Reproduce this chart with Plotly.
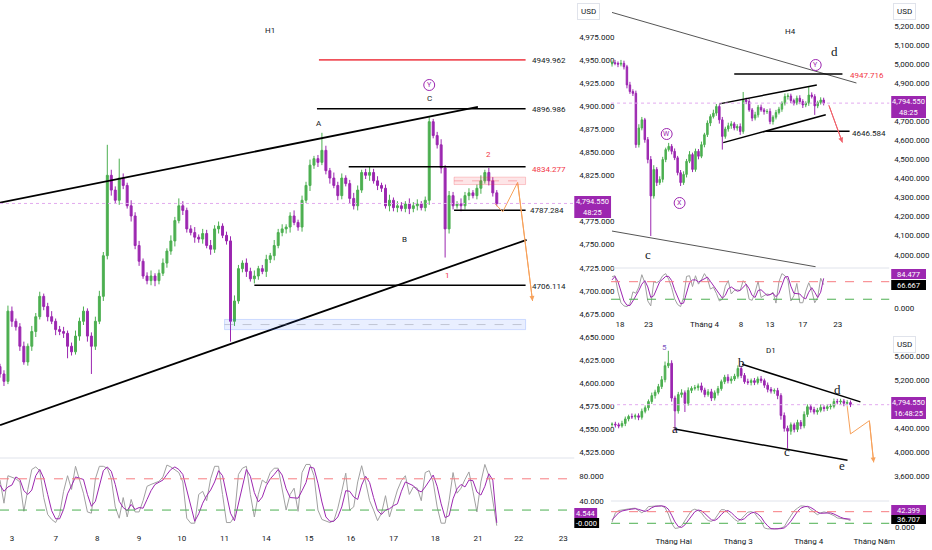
import plotly.graph_objects as go

W, H = 932, 550


def px(x):
    return x / W


def py(y):
    return 1 - y / H


GREEN = "#4caf50"
PURPLE = "#9c27b0"
GRAY_OSC = "#a0a0a0"
ORANGE = "#f7a15a"
RED = "#f23645"
TXT = "#131722"
FONT = "Roboto"

# ---------------- H1 ----------------
h1_first_open = 4618
h1_close = [4610, 4602, 4678, 4667, 4661, 4640, 4623, 4640, 4656, 4672,
            4694, 4683, 4672, 4667, 4658, 4656, 4654, 4640, 4634, 4651,
            4667, 4678, 4651, 4640, 4667, 4694, 4738, 4825, 4809, 4798,
            4822, 4814, 4792, 4781, 4749, 4732, 4716, 4711, 4716, 4711,
            4719, 4730, 4743, 4754, 4776, 4792, 4787, 4767, 4763, 4758,
            4756, 4762, 4749, 4745, 4767, 4770, 4760, 4754, 4667, 4689,
            4724, 4730, 4721, 4713, 4716, 4724, 4721, 4734, 4738, 4749,
            4763, 4767, 4769, 4781, 4774, 4769, 4798, 4814, 4836, 4843,
            4839, 4852, 4830, 4822, 4814, 4803, 4822, 4816, 4800, 4792,
            4809, 4828, 4825, 4828, 4819, 4814, 4811, 4792, 4798, 4790,
            4792, 4789, 4794, 4789, 4792, 4794, 4790, 4798, 4883, 4868,
            4858, 4833, 4767, 4803, 4792, 4794, 4792, 4803, 4806, 4803,
            4811, 4819, 4828, 4819, 4806, 4794.55]
h1_wick_up = [3, 4, 6, 5, 3, 4, 5, 3, 6, 4,
              5, 3, 4, 6, 3, 4, 5, 3, 4, 6,
              4, 5, 3, 4, 5, 6, 4, 33, 6, 4,
              21, 5, 3, 6, 4, 5, 3, 4, 6, 3,
              4, 5, 3, 6, 4, 8, 5, 3, 4, 6,
              3, 5, 4, 6, 4, 5, 3, 4, 5, 6,
              4, 3, 5, 4, 6, 3, 4, 5, 3, 6,
              4, 5, 3, 4, 6, 3, 5, 4, 6, 3,
              4, 19, 5, 3, 6, 4, 5, 3, 4, 6,
              5, 3, 4, 6, 4, 5, 3, 4, 6, 3,
              5, 4, 3, 6, 4, 5, 3, 4, 5, 3,
              4, 6, 3, 5, 4, 3, 6, 4, 5, 3,
              4, 6, 3, 5, 4, 3]
h1_wick_dn = [4, 5, 3, 6, 4, 5, 3, 4, 5, 6,
              3, 4, 5, 3, 6, 4, 5, 13, 4, 3,
              5, 4, 6, 30, 4, 3, 5, 4, 6, 3,
              5, 4, 3, 6, 4, 5, 3, 4, 5, 6,
              4, 3, 5, 4, 6, 3, 5, 4, 3, 6,
              4, 5, 3, 6, 4, 5, 3, 4, 22, 5,
              3, 4, 6, 3, 5, 4, 3, 6, 4, 5,
              3, 4, 5, 6, 3, 4, 5, 3, 6, 4,
              5, 3, 4, 6, 3, 5, 4, 3, 6, 4,
              5, 3, 4, 6, 3, 5, 4, 3, 6, 4,
              5, 3, 4, 6, 4, 5, 3, 4, 5, 3,
              4, 6, 31, 5, 4, 3, 6, 4, 5, 3,
              4, 6, 3, 5, 4, 3]
h1_k = [73, 36, 80, 78, 75, 70, 23, 58, 90, 94,
        88, 45, 18, 10, 5, 18, 55, 80, 58, 95,
        75, 52, 22, 20, 75, 95, 95, 92, 75, 30,
        12, 45, 14, 42, 22, 22, 40, 63, 66, 69,
        71, 78, 97, 94, 90, 85, 70, 12, 4, 4,
        50, 55, 40, 75, 95, 95, 50, 5, 5, 15,
        82, 92, 95, 50, 14, 50, 73, 68, 85, 92,
        92, 60, 25, 50, 60, 23, 85, 98, 98, 80,
        25, 10, 7, 5, 8, 28, 55, 84, 25, 30,
        70, 96, 70, 40, 25, 8, 20, 48, 14, 35,
        57, 72, 80, 50, 62, 60, 40, 85, 88, 70,
        30, 4, 4, 40, 85, 52, 60, 74, 86, 55,
        22, 70, 98, 80, 40, 0]
h1_d = [65, 55, 62, 65, 78, 74, 56, 50, 57, 80,
        90, 76, 50, 24, 11, 11, 26, 51, 64, 78,
        76, 74, 50, 31, 39, 63, 88, 94, 87, 66,
        39, 29, 24, 34, 26, 29, 28, 42, 56, 66,
        69, 73, 82, 90, 94, 90, 82, 56, 29, 7,
        19, 36, 48, 57, 70, 88, 80, 50, 20, 8,
        34, 63, 90, 79, 53, 38, 46, 64, 75, 82,
        90, 81, 59, 45, 45, 44, 56, 69, 94, 92,
        68, 38, 14, 7, 7, 14, 30, 56, 55, 46,
        42, 65, 79, 69, 45, 24, 18, 25, 27, 32,
        35, 55, 70, 67, 64, 57, 54, 62, 71, 81,
        63, 35, 13, 16, 43, 59, 66, 62, 73, 72,
        54, 49, 63, 83, 73, 4.544]
h1_tickpos = [3, 14, 24.5, 35, 45.75, 56.5, 67, 77.75, 88.25, 99, 109.5, 120.25, 130.5, 141.75]
h1_ticklab = ["3", "7", "8", "9", "10", "11", "14", "15", "16", "17", "18", "21", "22", "23"]
h1_pricetick = [4525, 4550, 4575, 4600, 4625, 4650, 4675, 4700, 4725, 4750, 4775,
                4825, 4850, 4875, 4900, 4925, 4950, 4975]
h1_levels = [4949.962, 4896.986, 4834.277, 4787.284, 4706.114]

# ---------------- H4 ----------------
h4_first_open = 5000
h4_close = [5006, 5003, 4999, 5003, 4985, 4890, 4855, 4846, 4577, 4664,
            4707, 4603, 4499, 4308, 4447, 4378, 4395, 4499, 4551, 4568,
            4542, 4508, 4430, 4378, 4421, 4490, 4525, 4447, 4542, 4516,
            4577, 4629, 4690, 4724, 4742, 4777, 4707, 4620, 4659, 4676,
            4686, 4664, 4672, 4646, 4811, 4803, 4759, 4716, 4733, 4773,
            4759, 4750, 4751, 4698, 4721, 4745, 4763, 4794, 4829, 4832,
            4808, 4794, 4820, 4803, 4785, 4794, 4837, 4829, 4780, 4797,
            4811, 4794.55]
h4_wick_up = [12, 15, 10, 18, 14, 10, 16, 12, 14, 20,
              15, 10, 14, 18, 22, 12, 16, 14, 10, 18,
              12, 15, 10, 14, 16, 12, 18, 10, 14, 12,
              16, 10, 14, 12, 18, 13, 10, 15, 12, 16,
              14, 10, 12, 16, 42, 12, 14, 10, 16, 12,
              14, 10, 12, 16, 10, 14, 12, 10, 16, 14,
              12, 10, 14, 16, 12, 10, 42, 14, 12, 10,
              14, 12]
h4_wick_dn = [14, 10, 16, 12, 14, 18, 12, 14, 17, 15,
              12, 16, 20, 210, 14, 18, 12, 16, 14, 10,
              16, 12, 14, 18, 12, 16, 10, 14, 12, 16,
              10, 14, 12, 16, 10, 14, 20, 69, 12, 14,
              16, 12, 14, 18, 12, 14, 10, 16, 12, 14,
              10, 16, 12, 14, 16, 12, 10, 14, 12, 16,
              14, 12, 10, 14, 16, 12, 14, 10, 47, 12,
              10, 12]
h4_k = [89, 92, 46, 15, 6, 4, 12, 46, 42, 60,
        95, 72, 20, 6, 75, 72, 78, 92, 98, 82,
        58, 26, 10, 4, 30, 90, 92, 61, 92, 68,
        80, 98, 84, 54, 59, 42, 20, 25, 62, 78,
        40, 50, 52, 50, 78, 68, 25, 22, 45, 76,
        30, 35, 40, 38, 45, 14, 75, 98, 92, 80,
        20, 35, 70, 15, 15, 48, 72, 50, 15, 30,
        85, 66.667]
h4_d = [80, 90, 75, 45, 20, 8, 7, 20, 34, 50,
        68, 78, 60, 30, 35, 55, 75, 82, 90, 90,
        78, 52, 30, 12, 14, 42, 72, 80, 80, 74,
        78, 82, 88, 76, 64, 50, 38, 28, 36, 55,
        60, 55, 48, 50, 60, 68, 55, 36, 30, 50,
        52, 45, 36, 38, 42, 32, 42, 65, 88, 90,
        62, 42, 42, 40, 30, 26, 45, 58, 45, 30,
        45, 84.477]
h4_tickpos = [2.67, 12.2, 31, 43.3, 53, 64, 75.7]
h4_ticklab = ["18", "23", "Tháng 4", "8", "13", "17", "23"]
h4_pricetick = [4000, 4100, 4200, 4300, 4400, 4500, 4600, 4700, 4900, 5000, 5100, 5200]
h4_levels = [4947.716, 4646.584]

# ---------------- D1 ----------------
d1_first_open = 4462
d1_close = [4470, 4459, 4441, 4482, 4557, 4598, 4592, 4610, 4586, 4685,
            4743, 4847, 4946, 5004, 5096, 5212, 5444, 5485, 4905, 4691,
            4963, 4992, 4818, 5033, 5067, 5079, 5108, 5038, 4963, 5009,
            4905, 4992, 5062, 5178, 5253, 5195, 5224, 5270, 5398, 5282,
            5178, 5166, 5195, 5166, 5224, 5195, 5120, 5050, 5021, 5030,
            4946, 4615, 4401, 4354, 4459, 4383, 4499, 4441, 4633, 4760,
            4714, 4673, 4702, 4749, 4731, 4760, 4768, 4847, 4841, 4853,
            4818, 4830, 4794.55]
d1_wick_up = [30, 40, 35, 45, 40, 30, 50, 35, 40, 45,
              40, 35, 50, 40, 45, 60, 70, 208, 50, 40,
              45, 60, 40, 50, 35, 45, 40, 55, 40, 45,
              50, 40, 45, 35, 40, 50, 45, 40, 52, 45,
              40, 50, 35, 45, 40, 50, 35, 45, 40, 35,
              45, 40, 50, 45, 40, 35, 45, 40, 50, 40,
              35, 45, 40, 50, 35, 45, 40, 50, 45, 40,
              35, 40, 35]
d1_wick_dn = [35, 45, 40, 30, 45, 40, 35, 45, 50, 40,
              35, 45, 40, 50, 35, 40, 45, 40, 60, 337,
              45, 50, 145, 40, 45, 35, 50, 40, 45, 35,
              50, 40, 45, 35, 40, 45, 50, 35, 40, 45,
              35, 40, 50, 45, 35, 40, 45, 50, 40, 45,
              60, 70, 55, 290, 60, 50, 45, 55, 40, 45,
              50, 40, 45, 35, 50, 40, 45, 35, 40, 45,
              50, 35, 40]
d1_k = [30, 70, 80, 83, 84, 86, 89, 90, 78, 70,
        80, 97, 98, 100, 100, 100, 92, 65, 25, 3,
        5, 14, 35, 58, 80, 86, 80, 70, 50, 37,
        33, 42, 62, 84, 83, 72, 57, 42, 33, 43,
        60, 73, 75, 70, 50, 35, 5, 1, 1, 1,
        1, 5, 10, 35, 58, 79, 90, 100, 99, 96,
        84, 72, 62, 70, 74, 71, 65, 58, 48, 46,
        45, 42, 36.707]
d1_d = [40, 55, 70, 78, 82, 84, 86, 88, 85, 79,
        76, 82, 92, 98, 99, 100, 97, 86, 60, 31,
        11, 7, 18, 36, 58, 75, 82, 79, 67, 52,
        40, 37, 46, 63, 76, 80, 71, 57, 44, 39,
        45, 59, 69, 73, 65, 52, 30, 14, 2, 1,
        1, 2, 5, 17, 34, 57, 76, 90, 96, 98,
        93, 84, 73, 68, 69, 72, 70, 65, 57, 51,
        46, 44, 42.399]
d1_tickpos = [18.6, 38.1, 59.4, 79.2]
d1_ticklab = ["Tháng Hai", "Tháng 3", "Tháng 4", "Tháng Năm"]
d1_pricetick = [3600, 4000, 4400, 5200, 5600]

last_price = 4794.55


def ohlc(first_open, closes, up, dn):
    opens = [first_open] + closes[:-1]
    highs = [max(o, c) + u for o, c, u in zip(opens, closes, up)]
    lows = [min(o, c) - d for o, c, d in zip(opens, closes, dn)]
    return opens, highs, lows


def candles(first_open, closes, up, dn, xa, ya):
    o, hi, lo = ohlc(first_open, closes, up, dn)
    return go.Candlestick(
        x=list(range(len(closes))), open=o, high=hi, low=lo, close=closes,
        increasing=dict(line=dict(color=GREEN, width=1), fillcolor=GREEN),
        decreasing=dict(line=dict(color=PURPLE, width=1), fillcolor=PURPLE),
        whiskerwidth=0, xaxis=xa, yaxis=ya, showlegend=False, hoverinfo="skip")


def osc(vals, color, xa, ya):
    return go.Scatter(x=list(range(len(vals))), y=vals, mode="lines",
                      line=dict(color=color, width=1), xaxis=xa, yaxis=ya,
                      showlegend=False, hoverinfo="skip")


fig = go.Figure()
fig.add_trace(candles(h1_first_open, h1_close, h1_wick_up, h1_wick_dn, "x", "y"))
fig.add_trace(osc(h1_k, GRAY_OSC, "x2", "y2"))
fig.add_trace(osc(h1_d, PURPLE, "x2", "y2"))
fig.add_trace(candles(h4_first_open, h4_close, h4_wick_up, h4_wick_dn, "x3", "y3"))
fig.add_trace(osc(h4_k, GRAY_OSC, "x4", "y4"))
fig.add_trace(osc(h4_d, PURPLE, "x4", "y4"))
fig.add_trace(candles(d1_first_open, d1_close, d1_wick_up, d1_wick_dn, "x5", "y5"))
fig.add_trace(osc(d1_k, GRAY_OSC, "x6", "y6"))
fig.add_trace(osc(d1_d, PURPLE, "x6", "y6"))


def path(xs, ys, color, xa, ya, width=1.5, dash="solid"):
    fig.add_trace(go.Scatter(x=xs, y=ys, mode="lines", line=dict(color=color, width=width, dash=dash),
                             xaxis=xa, yaxis=ya, showlegend=False, hoverinfo="skip"))


# H1 drawings
path([0, 120.25], [4795.5, 4899], "black", "x", "y", 1.8)
path([0, 132.5], [4554.7, 4755.2], "black", "x", "y", 1.8)
path([80.25, 132.25], [h1_levels[0]] * 2, "#f0525b", "x", "y", 1.8)
path([79.75, 132.25], [h1_levels[1]] * 2, "black", "x", "y", 1.5)
path([87.75, 132.25], [h1_levels[2]] * 2, "black", "x", "y", 1.5)
path([114.25, 132.25], [h1_levels[3]] * 2, "black", "x", "y", 1.5)
path([64, 132.25], [h1_levels[4]] * 2, "black", "x", "y", 1.5)
path([124.5, 126.5, 130.25, 134], [4794.4, 4785.6, 4817.3, 4689], ORANGE, "x", "y", 1)
# H4 drawings
path([0, 82], [5269.8, 4900], "#555555", "x3", "y3", 1)
path([0, 68.3], [4124, 3937], "#555555", "x3", "y3", 1)
path([41, 77.3], [h4_levels[0]] * 2, "black", "x3", "y3", 1.5)
path([51.7, 79.7], [h4_levels[1]] * 2, "black", "x3", "y3", 1.5)
path([36, 68.7], [4790.6, 4889.6], "black", "x3", "y3", 1.5)
path([37.3, 71.7], [4587.5, 4733.3], "black", "x3", "y3", 1.5)
path([72.7, 77.3], [4785.4, 4587.5], "#f0606a", "x3", "y3", 1)
# D1 drawings
path([39.3, 75], [5467.5, 4841.5], "black", "x5", "y5", 1.5)
path([18.9, 71.1], [4389.4, 3867.7], "black", "x5", "y5", 1.5)
path([71, 72, 77.7, 79], [4772, 4307.6, 4528.5, 3833], ORANGE, "x5", "y5", 1)

shapes = []
annotations = []

# current price dotted lines
for ya, x0, x1 in [("y", 0, 578), ("y3", 615, 895), ("y5", 615, 895)]:
    shapes.append(dict(type="line", xref="paper", yref=ya, x0=px(x0), x1=px(x1),
                       y0=last_price, y1=last_price, line=dict(color="#e2a9ef", width=1, dash="dot")))

# zones on H1
shapes.append(dict(type="rect", xref="x", yref="y", x0=114.25, x1=132.25, y0=4815, y1=4823,
                   fillcolor="rgba(242,54,69,0.13)", line=dict(color="rgba(242,54,69,0.25)", width=1)))
shapes.append(dict(type="line", xref="x", yref="y", x0=114.25, x1=132.25, y0=4819, y1=4819,
                   line=dict(color="rgba(242,54,69,0.35)", width=1, dash="dash")))
shapes.append(dict(type="rect", xref="x", yref="y", x0=56.5, x1=132.25, y0=4658, y1=4669,
                   fillcolor="rgba(41,98,255,0.1)", line=dict(color="rgba(41,98,255,0.2)", width=1)))
shapes.append(dict(type="line", xref="x", yref="y", x0=56.5, x1=132.25, y0=4663.5, y1=4663.5,
                   line=dict(color="rgba(120,123,134,0.35)", width=1, dash="dash")))

# oscillator bands
for ya, x0, x1 in [("y2", 0, 578), ("y4", 615, 895), ("y6", 615, 895)]:
    shapes.append(dict(type="line", xref="paper", yref=ya, x0=px(x0), x1=px(x1), y0=75, y1=75,
                       line=dict(color="#f77c80", width=1, dash="dash")))
    shapes.append(dict(type="line", xref="paper", yref=ya, x0=px(x0), x1=px(x1), y0=25, y1=25,
                       line=dict(color="#4caf50", width=1, dash="dash")))

# pane separators
for y, x0, x1 in [(458, 0, 578), (268, 615, 895), (501, 615, 895)]:
    shapes.append(dict(type="line", xref="paper", yref="paper", x0=px(x0), x1=px(x1), y0=py(y), y1=py(y),
                       line=dict(color="#e0e3eb", width=1)))


def label(x, y, text, size=8, color=TXT, family=FONT, xanchor="center"):
    annotations.append(dict(xref="paper", yref="paper", x=px(x), y=py(y), text=text, showarrow=False,
                            xanchor=xanchor, yanchor="middle", font=dict(size=size, color=color, family=family)))


def circled(x, y, text, r=5.5):
    shapes.append(dict(type="circle", xref="paper", yref="paper", x0=px(x - r), x1=px(x + r),
                       y0=py(y + r), y1=py(y - r), line=dict(color=PURPLE, width=1)))
    label(x, y, text, 7, PURPLE)


def badge(x0, x1, y0, y1, lines, bg, size=7.5):
    shapes.append(dict(type="rect", xref="paper", yref="paper", x0=px(x0), x1=px(x1),
                       y0=py(y1), y1=py(y0), fillcolor=bg, line=dict(width=0), layer="above"))
    step = (y1 - y0) / len(lines)
    for n, t in enumerate(lines):
        annotations.append(dict(xref="paper", yref="paper", x=px((x0 + x1) / 2), y=py(y0 + step * (n + 0.5)),
                                text=t, showarrow=False, xanchor="center", yanchor="middle",
                                font=dict(size=size, color="white", family=FONT)))


def usd(x, y):
    annotations.append(dict(xref="paper", yref="paper", x=px(x), y=py(y), text="USD", showarrow=False,
                            xanchor="left", yanchor="middle", bgcolor="white", bordercolor="#e0e3eb",
                            borderwidth=1, borderpad=3, font=dict(size=8, color=TXT, family=FONT)))


# H1 texts
label(272, 30, "H1")
circled(432, 85, "Y")
label(432, 98, "C")
label(321, 123, "A")
label(407, 240, "B")
label(492, 155, "2", 8, RED)
label(450, 275, "1", 8, RED)
label(533, 60, "4949.962", xanchor="left")
label(533, 109, "4896.986", xanchor="left")
label(533, 169, "4834.277", color=RED, xanchor="left")
label(531, 211, "4787.284", xanchor="left")
label(533, 286, "4706.114", xanchor="left")
# H4 texts
label(796, 31, "H4")
label(840, 52, "d", 13, TXT, "Liberation Serif")
circled(821, 65, "Y")
circled(671, 134, "W")
circled(684, 203, "X")
label(652, 254, "c", 13, TXT, "Liberation Serif")
label(853, 75, "4947.716", color=RED, xanchor="left")
label(856, 133, "4646.584", xanchor="left")
# D1 texts
label(776, 350, "D1")
label(669, 347, "5", 8, "#7e57c2")
label(746, 362, "b", 13, TXT, "Liberation Serif")
label(679, 428, "a", 13, TXT, "Liberation Serif")
label(792, 451, "c", 13, TXT, "Liberation Serif")
label(843, 389, "d", 13, TXT, "Liberation Serif")
label(847, 465, "e", 13, TXT, "Liberation Serif")
# D1 oscillator scale label
label(899, 527, "0.000", xanchor="left")

# arrow heads
annotations.append(dict(xref="x", yref="y", axref="x", ayref="y", x=134, y=4689, ax=130.25, ay=4817.3,
                        text="", showarrow=True, arrowhead=2, arrowsize=1, arrowwidth=1, arrowcolor=ORANGE))
annotations.append(dict(xref="x3", yref="y3", axref="x3", ayref="y3", x=77.3, y=4587.5, ax=72.7, ay=4785.4,
                        text="", showarrow=True, arrowhead=2, arrowsize=1, arrowwidth=1, arrowcolor="#f0606a"))
annotations.append(dict(xref="x5", yref="y5", axref="x5", ayref="y5", x=79, y=3833, ax=77.7, ay=4528.5,
                        text="", showarrow=True, arrowhead=2, arrowsize=1, arrowwidth=1, arrowcolor=ORANGE))

# badges
badge(578, 615, 196, 218, ["4,794.550", "48:25"], PURPLE)
badge(897, 932, 96, 118, ["4,794.550", "48:25"], PURPLE)
badge(897, 932, 397, 419, ["4,794.550", "16:48:25"], PURPLE)
badge(578, 601, 508, 518, ["4.544"], PURPLE)
badge(578, 603, 518, 528, ["-0.000"], "black")
badge(897, 932, 269, 279, ["84.477"], PURPLE)
badge(897, 932, 280, 290, ["66.667"], "black")
badge(897, 932, 505, 515, ["42.399"], PURPLE)
badge(897, 932, 515, 524, ["36.707"], "black")
usd(581, 11)
usd(899, 11)
usd(899, 344)

tickfont = dict(size=8, color=TXT, family=FONT)
common_x = dict(showgrid=False, zeroline=False, showline=False, ticks="", tickfont=tickfont,
                rangeslider=dict(visible=False), fixedrange=True, ticklabelstandoff=3)
common_y = dict(showgrid=False, zeroline=False, showline=False, ticks="", side="right",
                tickfont=tickfont, fixedrange=True, ticklabelstandoff=4)

h1_dom = [0, px(578)]
r_dom = [px(615), px(895)]

fig.update_layout(
    width=W, height=H, margin=dict(l=0, r=0, t=0, b=0),
    paper_bgcolor="white", plot_bgcolor="white", showlegend=False,
    font=dict(family=FONT, color=TXT),
    xaxis=dict(common_x, domain=h1_dom, range=[0, 144.5], anchor="y", showticklabels=False),
    yaxis=dict(common_y, domain=[py(457.7), 1], range=[4519.4, 5014.7], anchor="x",
               tickvals=h1_pricetick, tickformat=",.3f"),
    xaxis2=dict(common_x, domain=h1_dom, range=[0, 144.5], anchor="y2",
                tickvals=h1_tickpos, ticktext=h1_ticklab),
    yaxis2=dict(common_y, domain=[py(529), py(458)], range=[-5.3, 108.3], anchor="x2",
                tickvals=[40, 80], tickformat=".3f"),
    xaxis3=dict(common_x, domain=r_dom, range=[-0.333, 93], anchor="y3", showticklabels=False),
    yaxis3=dict(common_y, domain=[py(268), 1], range=[3930.4, 5335], anchor="x3",
                tickvals=h4_pricetick, tickformat=",.3f"),
    xaxis4=dict(common_x, domain=r_dom, range=[-0.333, 93], anchor="y4",
                tickvals=h4_tickpos, ticktext=h4_ticklab),
    yaxis4=dict(common_y, domain=[py(315), py(268)], range=[-19.9, 114], anchor="x4",
                tickvals=[0], tickformat=".3f"),
    xaxis5=dict(common_x, domain=r_dom, range=[-0.3, 83.7], anchor="y5", showticklabels=False),
    yaxis5=dict(common_y, domain=[py(501), py(335)], range=[3155.9 + 2 * 16.67, 5956.4], anchor="x5",
                tickvals=d1_pricetick, tickformat=",.3f"),
    xaxis6=dict(common_x, domain=r_dom, range=[-0.3, 83.7], anchor="y6",
                tickvals=d1_tickpos, ticktext=d1_ticklab),
    yaxis6=dict(common_y, domain=[py(532), py(501)], range=[-12.5, 121], anchor="x6",
                showticklabels=False),
    shapes=shapes, annotations=annotations,
)

fig.write_html("out.html", config={"displayModeBar": False},
               post_script="document.body.style.margin='0';document.body.style.overflow='hidden';")
